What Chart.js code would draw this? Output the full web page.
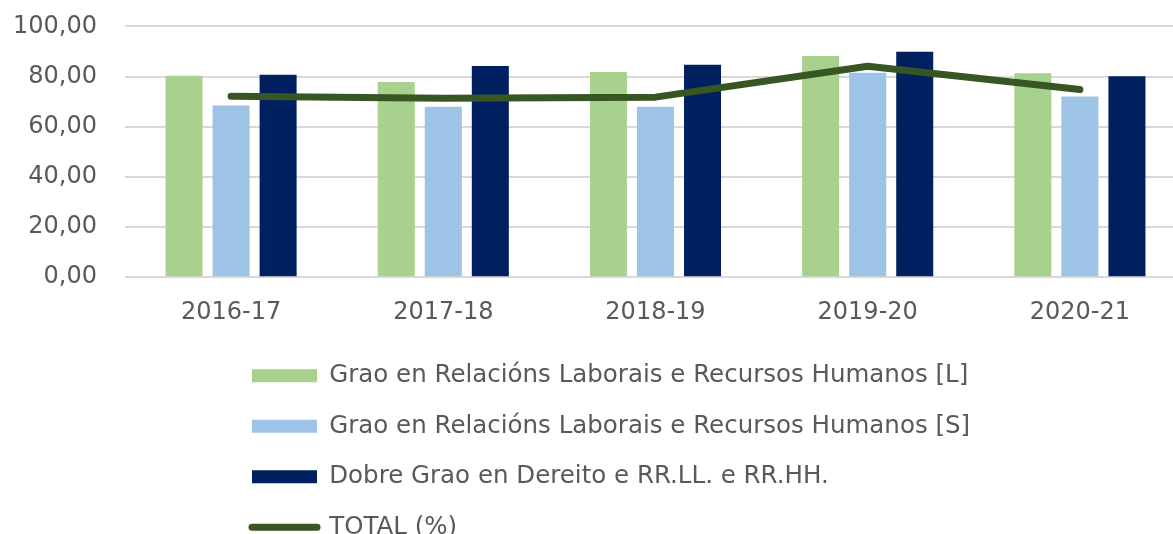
<!DOCTYPE html>
<html>
<head>
<meta charset="utf-8">
<script src="https://cdn.jsdelivr.net/npm/chart.js@4/dist/chart.umd.min.js"></script>
<style>
  html, body { margin: 0; padding: 0; background: #ffffff; overflow: hidden; }
  #wrap { position: relative; width: 1188px; height: 534px; }
</style>
</head>
<body>
<div id="wrap"><canvas id="c"></canvas></div>
<script>
const categories = ['2016-17', '2017-18', '2018-19', '2019-20', '2020-21'];
const seriesNames = [
  'Grao en Relacións Laborais e Recursos Humanos [L]',
  'Grao en Relacións Laborais e Recursos Humanos [S]',
  'Dobre Grao en Dereito e RR.LL. e RR.HH.',
  'TOTAL (%)'
];
const gradoL = [80.3, 77.8, 81.8, 88.2, 81.3];
const gradoS = [68.5, 68.0, 68.0, 81.5, 72.0];
const dobreGrao = [80.7, 84.2, 84.7, 89.9, 80.1];
const totalPct = [72.1, 71.4, 71.8, 84.1, 74.8];

const GREEN = '#a9d18e', LBLUE = '#9dc3e6', NAVY = '#002060', LINE = '#375623';
const TEXT = '#595959', GRID = '#d9d9d9';
const LEGEND_ROW_WIDTH = 760;

Chart.defaults.font.family = '"DejaVu Sans", sans-serif';
Chart.defaults.color = TEXT;

// one legend entry per row, left-aligned under the chart
const legendLayout = {
  id: 'legendLayout',
  beforeLayout(chart) {
    const l = chart.legend;
    if (l && !l.__rowPatch) {
      const proto = Object.getPrototypeOf(l);
      l.update = function (maxWidth, maxHeight, margins) {
        return proto.update.call(this, Math.min(maxWidth, LEGEND_ROW_WIDTH), maxHeight, margins);
      };
      l.__rowPatch = true;
    }
  },
  afterLayout(chart) {
    const l = chart.legend;
    if (!l) return;
    const pad = l.options.labels.padding;
    l.left = 252 - pad;
    l.right = l.left + LEGEND_ROW_WIDTH;
    l.width = LEGEND_ROW_WIDTH;
    l.top += 3;
    l.bottom += 3;
  }
};

new Chart(document.getElementById('c'), {
  type: 'bar',
  data: {
    labels: categories,
    datasets: [
      { label: seriesNames[0], data: gradoL, backgroundColor: GREEN, order: 1 },
      { label: seriesNames[1], data: gradoS, backgroundColor: LBLUE, order: 1 },
      { label: seriesNames[2], data: dobreGrao, backgroundColor: NAVY, order: 1 },
      { label: seriesNames[3], data: totalPct, type: 'line', borderColor: LINE, backgroundColor: LINE,
        borderWidth: 7, pointRadius: 0, pointHoverRadius: 0, borderCapStyle: 'round', borderJoinStyle: 'round',
        tension: 0, fill: false, order: 0 }
    ]
  },
  options: {
    responsive: true,
    maintainAspectRatio: false,
    animation: false,
    datasets: { bar: { categoryPercentage: 0.665, barPercentage: 0.787 } },
    layout: { padding: { left: 1, right: 2, top: 0, bottom: -12.5 } },
    scales: {
      x: {
        grid: { color: 'transparent', drawOnChartArea: false, drawTicks: true, tickLength: 14.5, tickColor: 'transparent' },
        border: { display: false },
        ticks: { font: { size: 24 }, color: TEXT, padding: 7 }
      },
      y: {
        min: 0, max: 100,
        border: { display: false },
        grid: { color: GRID, lineWidth: 2, drawTicks: true, tickLength: 16, tickColor: 'transparent' },
        ticks: {
          stepSize: 20, font: { size: 24 }, color: TEXT, padding: 12,
          callback: (v) => v.toFixed(2).replace('.', ',')
        }
      }
    },
    plugins: {
      tooltip: { enabled: false },
      legend: {
        position: 'bottom',
        align: 'start',
        labels: {
          font: { size: 24.5 },
          color: TEXT,
          padding: 26,
          usePointStyle: true,
          pointStyleWidth: 65,
          boxHeight: 13,
          generateLabels(chart) {
            const items = Chart.defaults.plugins.legend.labels.generateLabels(chart);
            items.sort((a, b) => a.datasetIndex - b.datasetIndex);
            items.forEach(it => {
              const ds = chart.data.datasets[it.datasetIndex];
              if (ds.type === 'line') {
                it.pointStyle = 'line';
                it.lineWidth = 7;
                it.lineCap = 'round';
                it.strokeStyle = LINE;
              } else {
                it.pointStyle = 'rect';
                it.lineWidth = 0;
                it.fillStyle = ds.backgroundColor;
              }
            });
            return items;
          }
        }
      }
    }
  },
  plugins: [legendLayout]
});
</script>
</body>
</html>
